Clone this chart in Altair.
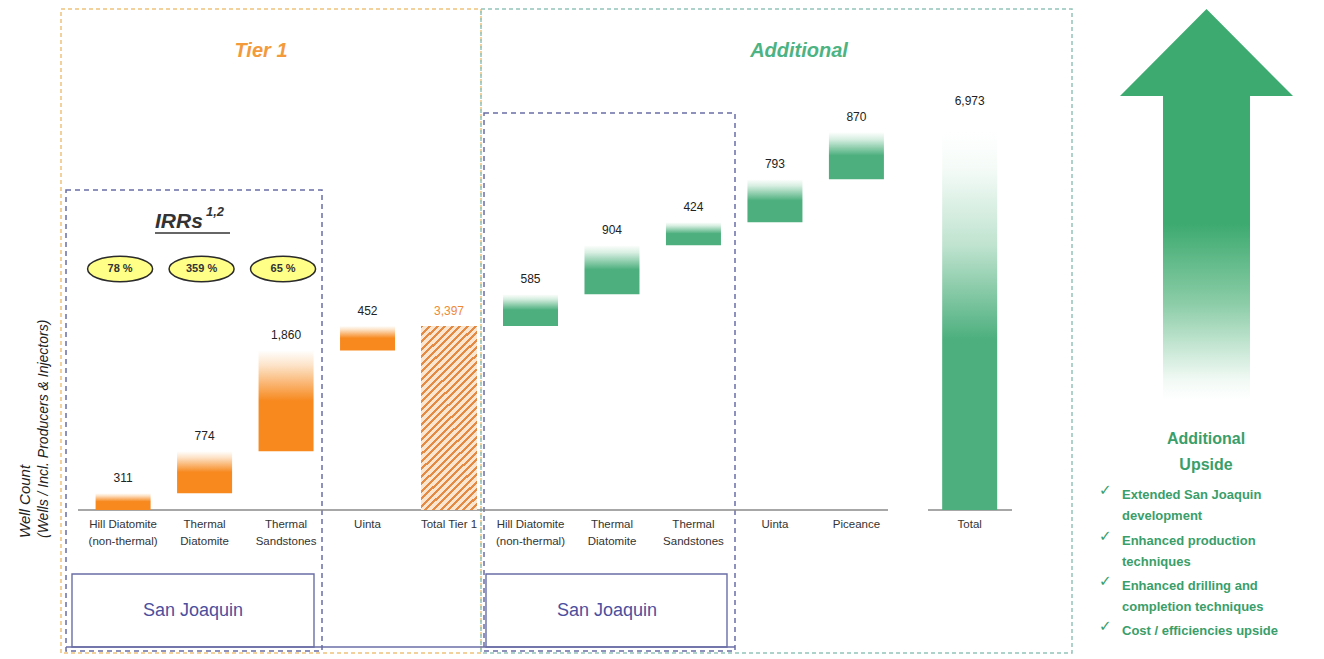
import altair as alt
import pandas as pd

# ---------------- data ----------------
tier1_categories = ["Hill Diatomite\n(non-thermal)", "Thermal\nDiatomite", "Thermal\nSandstones", "Uinta"]
tier1_values = [311, 774, 1860, 452]
tier1_total_category = "Total Tier 1"
tier1_total_value = 3397
additional_categories = ["Hill Diatomite\n(non-thermal)", "Thermal\nDiatomite", "Thermal\nSandstones", "Uinta", "Piceance"]
additional_values = [585, 904, 424, 793, 870]
total_category = "Total"
total_value = 6973
irr_labels = ["78 %", "359 %", "65 %"]
section_titles = ["Tier 1", "Additional"]
region_label = "San Joaquin"
y_title_lines = ["Well Count", "(Wells / Incl. Producers & Injectors)"]
upside_title = "Additional\nUpside"
upside_items = [
    "Extended San Joaquin\ndevelopment",
    "Enhanced production\ntechniques",
    "Enhanced drilling and\ncompletion techniques",
    "Cost / efficiencies upside",
]

# ---------------- layout constants ----------------
W, H = 1324, 659
SLOT = 82.1          # px between category slots
X0 = 119             # px centre of first slot
TOTAL_SLOT = 10.39   # slot of the grand total bar
BASE_Y = 510         # px of the zero line
PX_PER_WELL = 0.0542
FONT = "Liberation Sans"
ORANGE = "#F7891F"
GREEN = "#4CAF7D"
TXTGREEN = "#3A9E6A"
BLUE = "#6A6EA6"

rows = []
cum = 0
for i, (c, v) in enumerate(zip(tier1_categories, tier1_values)):
    rows.append(dict(pos=i, cat=c, start=cum, end=cum + v, value=v, kind="tier1"))
    cum += v
rows.append(dict(pos=len(tier1_values), cat=tier1_total_category, start=0, end=tier1_total_value,
                 value=tier1_total_value, kind="tier1_total"))
cum = tier1_total_value
for j, (c, v) in enumerate(zip(additional_categories, additional_values)):
    rows.append(dict(pos=len(tier1_values) + 1 + j, cat=c, start=cum, end=cum + v, value=v, kind="add"))
    cum += v
rows.append(dict(pos=TOTAL_SLOT, cat=total_category, start=0, end=total_value, value=total_value, kind="total"))
df = pd.DataFrame(rows)
one = pd.DataFrame({"k": [0]})  # single row for annotation marks

x_scale = alt.Scale(domain=[-X0 / SLOT, (W - X0) / SLOT], nice=False, zero=False)
y_scale = alt.Scale(domain=[-(H - BASE_Y) / PX_PER_WELL, BASE_Y / PX_PER_WELL], nice=False, zero=False)
X = alt.X("pos:Q", scale=x_scale, axis=None)
Y = alt.Y("end:Q", scale=y_scale, axis=None)
Y2 = alt.Y2("start:Q")


def grad(stops, x2=0.0, y2=1.0):
    return alt.LinearGradient(
        gradient="linear",
        stops=[alt.GradientStop(offset=o, color=c) for o, c in stops],
        x1=0, y1=0, x2=x2, y2=y2,
    )


orange_grad = grad([(0, "#FFFFFF"), (0.15, "#FDE3C8"), (0.5, ORANGE), (1, ORANGE)])
green_grad = grad([(0, "#FFFFFF"), (0.15, "#D8EFE2"), (0.5, GREEN), (1, GREEN)])
total_grad = grad([(0, "#FFFFFF"), (0.1, "#F4FBF7"), (0.3, "#BFE3CF"), (0.55, GREEN), (1, GREEN)])
arrow_grad = grad([(0, "#3DAA70"), (0.55, "#3DAA70"), (0.75, "#8ACCA6"), (0.95, "#F2FAF5"), (1, "#FFFFFF")])

# hatch for the Tier 1 total (diagonal stripes via a hard-stop gradient)
hatch_stops = []
N = 32
for k in range(N):
    a, b, c = k / N, (k + 0.4) / N, (k + 1) / N
    hatch_stops += [(a, "#E58A44"), (b, "#E58A44"), (b, "#FBE6D2"), (c, "#FBE6D2")]
hatch_grad = grad(hatch_stops, x2=0.3565, y2=1.1924)

base = alt.Chart(df)
layers = []


def ann():
    return alt.Chart(one)


# ---------------- decorations: boxes ----------------
def box(x1, x2, y1, y2, color, dash=None, width=1.2):
    kw = dict(fill="transparent", stroke=color, strokeWidth=width)
    if dash:
        kw["strokeDash"] = dash
    return ann().mark_rect(**kw).encode(
        x=alt.value(x1), x2=alt.value(x2), y=alt.value(y1), y2=alt.value(y2))


layers += [
    box(61, 481, 9, 653, "#F0C27E", [4, 3], 1.5),
    box(481, 1072, 9, 653, "#93C4B8", [4, 3], 1.5),
    box(66, 322, 190, 651, BLUE, [5, 4], 1.5),
    box(484, 735, 113, 651, BLUE, [5, 4], 1.5),
    box(72, 314, 574, 647, BLUE, None, 1.4),
    box(486, 727, 574, 647, BLUE, None, 1.4),
]
layers.append(ann().mark_rule(color=BLUE, strokeWidth=1.4).encode(
    x=alt.value(66), x2=alt.value(735), y=alt.value(647)))

# baselines
for xa, xb in [(78, 888), (928, 1012)]:
    layers.append(ann().mark_rule(color="#8A8A8A", strokeWidth=1.5).encode(
        x=alt.value(xa), x2=alt.value(xb), y=alt.value(BASE_Y)))

# ---------------- bars ----------------
layers.append(base.transform_filter(alt.datum.kind == "tier1").mark_bar(size=55, fill=orange_grad)
              .encode(x=X, y=Y, y2=Y2))
layers.append(base.transform_filter(alt.datum.kind == "tier1_total").mark_bar(size=56, fill=hatch_grad)
              .encode(x=X, y=Y, y2=Y2))
layers.append(base.transform_filter(alt.datum.kind == "add").mark_bar(size=55, fill=green_grad)
              .encode(x=X, y=Y, y2=Y2))
layers.append(base.transform_filter(alt.datum.kind == "total").mark_bar(size=55, fill=total_grad)
              .encode(x=X, y=Y, y2=Y2))

# value labels
txt = dict(font=FONT, fontSize=12, baseline="middle")
layers.append(base.transform_filter((alt.datum.kind == "tier1") | (alt.datum.kind == "add"))
              .mark_text(color="#222222", dy=-15, **txt)
              .encode(x=X, y=Y, text=alt.Text("value:Q", format=",")))
layers.append(base.transform_filter(alt.datum.kind == "tier1_total")
              .mark_text(color="#EE8A35", dy=-15, **txt)
              .encode(x=X, y=Y, text=alt.Text("value:Q", format=",")))
layers.append(base.transform_filter(alt.datum.kind == "total")
              .mark_text(color="#222222", dy=-31, **txt)
              .encode(x=X, y=Y, text=alt.Text("value:Q", format=",")))

# category labels
layers.append(base.mark_text(font=FONT, fontSize=11.5, baseline="top", lineBreak="\n", lineHeight=17,
                             color="#333333")
              .encode(x=X, y=alt.value(519), text="cat:N"))

# ---------------- IRR ellipses ----------------
irr_df = pd.DataFrame({"pos": list(range(len(irr_labels))), "irr": irr_labels})
ellipse = "M -1 0 A 1 0.39 0 1 0 1 0 A 1 0.39 0 1 0 -1 0 Z"
layers.append(alt.Chart(irr_df).mark_point(shape=ellipse, size=4225, filled=True, fill="#FFFF88",
                                           stroke="#2B2B2B", strokeWidth=1.5, opacity=1, xOffset=-3)
              .encode(x=alt.X("pos:Q", scale=x_scale, axis=None), y=alt.value(269)))
layers.append(alt.Chart(irr_df).mark_text(font=FONT, fontSize=11, fontWeight="bold", color="#333333",
                                          xOffset=-3)
              .encode(x=alt.X("pos:Q", scale=x_scale, axis=None), y=alt.value(269), text="irr:N"))

# IRRs title
layers.append(ann().mark_text(text="IRRs", font=FONT, fontSize=21, fontWeight="bold",
                              fontStyle="italic", align="left", baseline="alphabetic",
                              color="#333333")
              .encode(x=alt.value(155), y=alt.value(228)))
layers.append(ann().mark_text(text="1,2", font=FONT, fontSize=13, fontWeight="bold",
                              fontStyle="italic", align="left", baseline="alphabetic",
                              color="#333333")
              .encode(x=alt.value(206), y=alt.value(216)))
layers.append(ann().mark_rule(color="#333333", strokeWidth=1.5)
              .encode(x=alt.value(155), x2=alt.value(230), y=alt.value(233)))

# section titles
layers.append(ann().mark_text(text=section_titles[0], font=FONT, fontSize=20,
                              fontWeight="bold", fontStyle="italic", color="#F39A3C")
              .encode(x=alt.value(261), y=alt.value(51)))
layers.append(ann().mark_text(text=section_titles[1], font=FONT, fontSize=20,
                              fontWeight="bold", fontStyle="italic", color="#4DB382")
              .encode(x=alt.value(799), y=alt.value(51)))

# San Joaquin labels
for xc in (193, 607):
    layers.append(ann().mark_text(text=region_label, font=FONT, fontSize=18, color="#4B4F9E")
                  .encode(x=alt.value(xc), y=alt.value(611)))

# y title
layers.append(ann().mark_text(text=y_title_lines[0], font=FONT, fontSize=15, fontStyle="italic",
                              angle=270, align="left", baseline="middle", color="#222222")
              .encode(x=alt.value(25), y=alt.value(538)))
layers.append(ann().mark_text(text=y_title_lines[1], font=FONT, fontSize=14, fontStyle="italic",
                              angle=270, align="left", baseline="middle", color="#222222")
              .encode(x=alt.value(44), y=alt.value(538)))

# ---------------- upside arrow & list ----------------
arrow = ("M 0 -2.26 L 1 -1.254 L 0.503 -1.254 L 0.503 2.26 L -0.503 2.26 "
         "L -0.503 -1.254 L -1 -1.254 Z")
layers.append(ann().mark_point(shape=arrow, size=173 * 173, filled=True, fill=arrow_grad,
                               strokeWidth=0, opacity=1)
              .encode(x=alt.value(1206.5), y=alt.value(204.5)))
layers.append(ann().mark_text(text=upside_title, font=FONT, fontSize=16, fontWeight="bold",
                              lineBreak="\n", lineHeight=26, baseline="top", color=TXTGREEN)
              .encode(x=alt.value(1206), y=alt.value(431)))
item_y = [489, 535, 580, 625]
for yy, item in zip(item_y, upside_items):
    layers.append(ann().mark_text(text="✓", font="DejaVu Sans", fontSize=15, color=TXTGREEN,
                                  baseline="top", align="left")
                  .encode(x=alt.value(1099), y=alt.value(yy - 6)))
    layers.append(ann().mark_text(text=item, font=FONT, fontSize=13, fontWeight="bold",
                                  lineBreak="\n", lineHeight=21, baseline="top", align="left",
                                  color=TXTGREEN)
                  .encode(x=alt.value(1122), y=alt.value(yy)))

chart = alt.layer(*layers).properties(
    width=W, height=H, padding=0, autosize=alt.AutoSizeParams(type="none"), background="white"
).configure_view(stroke=None)

chart.save("out.html", embed_options={"renderer": "svg", "actions": False})
